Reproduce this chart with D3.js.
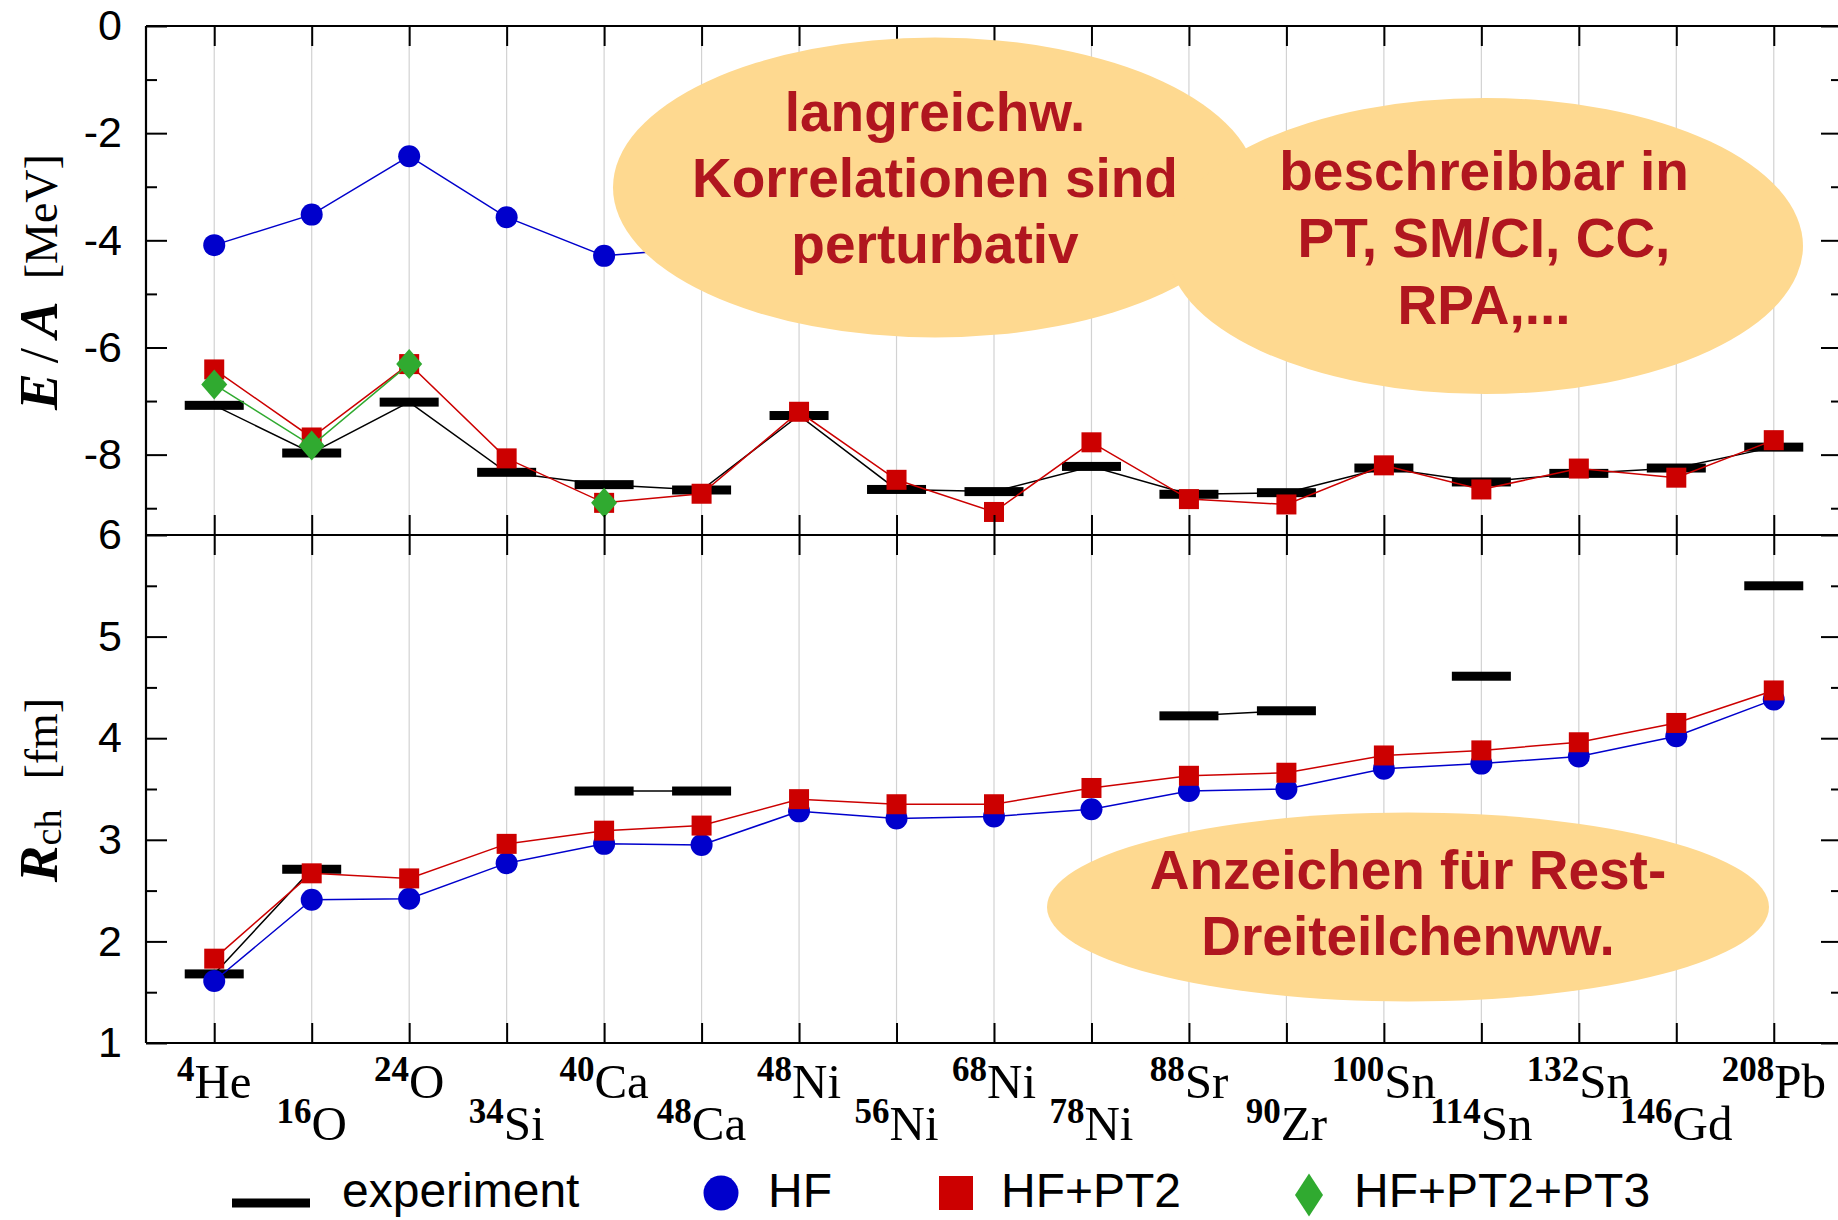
<!DOCTYPE html>
<html>
<head>
<meta charset="utf-8">
<script src="https://cdn.jsdelivr.net/npm/d3@7"></script>
<style>
  body { margin: 0; background: #fff; }
  svg { display: block; background: #fff; }
</style>
</head>
<body>
<svg id="chart" width="1838" height="1220"></svg>
<script>
// Nuclei along the x axis (mass number as superscript, element symbol)
const massNumbers = ["4","16","24","34","40","48","48","56","68","78","88","90","100","114","132","146","208"];
const elements    = ["He","O","O","Si","Ca","Ca","Ni","Ni","Ni","Ni","Sr","Zr","Sn","Sn","Sn","Gd","Pb"];

// Binding energy per nucleon E/A [MeV]
const energyExp = [-7.08,-7.97,-7.02,-8.33,-8.56,-8.66,-7.27,-8.65,-8.69,-8.22,-8.74,-8.71,-8.25,-8.51,-8.35,-8.25,-7.86];
const energyHF  = [-4.09,-3.52,-2.43,-3.57,-4.29,-4.14,-3.25,-3.90,-3.70,-3.55,-3.90,-4.00,-3.60,-3.70,-3.60,-3.70,-3.75];
const energyPT2 = [-6.41,-7.68,-6.31,-8.07,-8.90,-8.73,-7.20,-8.47,-9.07,-7.77,-8.83,-8.93,-8.20,-8.65,-8.26,-8.43,-7.73];
const energyPT3 = [-6.69,-7.83,-6.31,null,-8.90,null,null,null,null,null,null,null,null,null,null,null,null];

// Charge radius R_ch [fm]
const radiusExp = [1.68,2.71,null,null,3.48,3.48,null,null,null,null,4.22,4.27,null,4.61,null,null,5.50];
const radiusHF  = [1.61,2.41,2.42,2.77,2.96,2.95,3.28,3.21,3.23,3.30,3.48,3.50,3.70,3.75,3.82,4.02,4.38];
const radiusPT2 = [1.83,2.67,2.62,2.96,3.09,3.14,3.40,3.35,3.35,3.51,3.63,3.66,3.83,3.88,3.96,4.15,4.47];

// Tick values
const energyTicks      = [0,-2,-4,-6,-8];
const energyMinorTicks = [-1,-3,-5,-7,-9];
const radiusTicks      = [1,2,3,4,5,6];
const radiusMinorTicks = [1.5,2.5,3.5,4.5,5.5];

// Legend entries and callout texts
const legendLabels = ["experiment","HF","HF+PT2","HF+PT2+PT3"];
const calloutLines = [
  ["langreichw.","Korrelationen sind","perturbativ"],
  ["beschreibbar in","PT, SM/CI, CC,","RPA,..."],
  ["Anzeichen für Rest-","Dreiteilchenww."]
];

// ---------------------------------------------------------------
const svg = d3.select("#chart");
const plotLeft = 146, plotRight = 1842, plotTop = 26, plotMid = 535, plotBottom = 1043;

const x  = d3.scaleLinear().domain([-0.7, 16.7]).range([plotLeft, plotRight]);
const yE = d3.scaleLinear().domain([-9.5, 0]).range([plotMid, plotTop]);
const yR = d3.scaleLinear().domain([1, 6]).range([plotBottom, plotMid]);

const idx = d3.range(massNumbers.length);
const sans = "'Liberation Sans', Arial, Helvetica, sans-serif";
const serif = "'Liberation Serif', 'Times New Roman', serif";

const COL = { exp: "#000000", hf: "#0000cc", pt2: "#cc0000", pt3: "#30aa30" };

// vertical grid lines through both panels
svg.append("g").selectAll("line").data(idx).join("line")
  .attr("x1", i => x(i)).attr("x2", i => x(i))
  .attr("y1", plotTop).attr("y2", plotBottom)
  .attr("stroke", "#d2d2d2").attr("stroke-width", 1.2);

// marker shapes
const symbols = {
  bar: (g, w = 59, h = 9) => g.append("rect").attr("x", -w/2).attr("y", -h/2).attr("width", w).attr("height", h),
  circle: (g, r = 11) => g.append("circle").attr("r", r),
  square: (g, s = 20) => g.append("rect").attr("x", -s/2).attr("y", -s/2).attr("width", s).attr("height", s),
  diamond: (g, hw = 13, hh = 15) => g.append("path").attr("d", `M0,${-hh}L${hw},0L0,${hh}L${-hw},0Z`)
};

function drawSeries(values, y, color, shape) {
  const g = svg.append("g");
  const pts = values.map((v, i) => ({ i, v }));
  const line = d3.line().defined(d => d.v != null).x(d => x(d.i)).y(d => y(d.v));
  g.append("path").attr("d", line(pts))
    .attr("fill", "none").attr("stroke", color).attr("stroke-width", 1.5);
  g.selectAll("g.m").data(pts.filter(d => d.v != null)).join("g")
    .attr("class", "m")
    .attr("transform", d => `translate(${x(d.i)},${y(d.v)})`)
    .each(function () { symbols[shape](d3.select(this)).attr("fill", color); });
}

// upper panel: E/A
drawSeries(energyExp, yE, COL.exp, "bar");
drawSeries(energyHF,  yE, COL.hf,  "circle");
drawSeries(energyPT2, yE, COL.pt2, "square");
drawSeries(energyPT3, yE, COL.pt3, "diamond");
// lower panel: R_ch
drawSeries(radiusExp, yR, COL.exp, "bar");
drawSeries(radiusHF,  yR, COL.hf,  "circle");
drawSeries(radiusPT2, yR, COL.pt2, "square");

// axes (ticks point inward)
function styleAxis(g) {
  g.select(".domain").remove();
  g.selectAll(".tick line").attr("stroke", "#000").attr("stroke-width", 2);
  g.selectAll(".tick text").attr("font-family", sans).attr("font-size", 43).attr("fill", "#000");
}
const noLabel = () => "";

[[yE, energyTicks, energyMinorTicks], [yR, radiusTicks, radiusMinorTicks]].forEach(([y, major, minor]) => {
  svg.append("g").attr("transform", `translate(${plotLeft},0)`)
    .call(d3.axisLeft(y).tickValues(major).tickSize(-21).tickPadding(24).tickFormat(d => String(d)))
    .call(styleAxis);
  svg.append("g").attr("transform", `translate(${plotLeft},0)`)
    .call(d3.axisLeft(y).tickValues(minor).tickSize(-11).tickFormat(noLabel)).call(styleAxis);
  svg.append("g").attr("transform", `translate(${plotRight},0)`)
    .call(d3.axisRight(y).tickValues(major).tickSize(-21).tickFormat(noLabel)).call(styleAxis);
  svg.append("g").attr("transform", `translate(${plotRight},0)`)
    .call(d3.axisRight(y).tickValues(minor).tickSize(-11).tickFormat(noLabel)).call(styleAxis);
});

[[plotTop, "top"], [plotMid, "bottom"], [plotMid, "top"], [plotBottom, "bottom"]].forEach(([yy, side]) => {
  const ax = side === "top" ? d3.axisTop(x) : d3.axisBottom(x);
  svg.append("g").attr("transform", `translate(0,${yy})`)
    .call(ax.tickValues(idx).tickSize(-20).tickFormat(noLabel)).call(styleAxis);
});

// frame
const frame = svg.append("g").attr("stroke", "#000").attr("stroke-width", 2.2).attr("fill", "none");
[plotTop, plotMid, plotBottom].forEach(yy => frame.append("line")
  .attr("x1", plotLeft).attr("x2", plotRight).attr("y1", yy).attr("y2", yy));
[plotLeft, plotRight].forEach(xx => frame.append("line")
  .attr("x1", xx).attr("x2", xx).attr("y1", plotTop).attr("y2", plotBottom));

// callout ellipses
const callouts = [
  { cx: 935,  cy: 187.5, rx: 322, ry: 150,  tx: 935,  base: 131, step: 66 },
  { cx: 1485, cy: 246,   rx: 318, ry: 148,  tx: 1484, base: 190, step: 67 },
  { cx: 1408, cy: 907,   rx: 361, ry: 94.5, tx: 1408, base: 889, step: 66 }
];
const calloutG = svg.append("g");
callouts.forEach(c => calloutG.append("ellipse")
  .attr("cx", c.cx).attr("cy", c.cy).attr("rx", c.rx).attr("ry", c.ry).attr("fill", "#fed990"));
callouts.forEach((c, k) => {
  calloutG.append("g").selectAll("text").data(calloutLines[k]).join("text")
    .attr("x", c.tx).attr("y", (d, j) => c.base + j * c.step)
    .attr("text-anchor", "middle")
    .attr("font-family", sans).attr("font-weight", "bold").attr("font-size", 55)
    .attr("fill", "#b0161f").text(d => d);
});

// x labels: two staggered rows
const xl = svg.append("g").attr("font-family", serif).attr("fill", "#000");
idx.forEach(i => {
  const t = xl.append("text")
    .attr("x", x(i)).attr("y", i % 2 === 0 ? 1098 : 1140)
    .attr("text-anchor", "middle");
  t.append("tspan").attr("font-size", 35).attr("font-weight", "bold").attr("dy", -17).text(massNumbers[i]);
  t.append("tspan").attr("font-size", 49).attr("dy", 17).text(elements[i]);
});

// y-axis titles
const t1 = svg.append("text").attr("transform", "translate(57,282) rotate(-90)")
  .attr("text-anchor", "middle").attr("font-family", serif).attr("fill", "#000");
t1.append("tspan").attr("font-size", 55).attr("font-weight", "bold").attr("font-style", "italic").text("E");
t1.append("tspan").attr("font-size", 55).attr("dx", 10).text("/");
t1.append("tspan").attr("font-size", 55).attr("dx", 10).attr("font-weight", "bold").attr("font-style", "italic").text("A");
t1.append("tspan").attr("font-size", 46).attr("dx", 22).text("[MeV]");

const t2 = svg.append("text").attr("transform", "translate(57,790) rotate(-90)")
  .attr("text-anchor", "middle").attr("font-family", serif).attr("fill", "#000");
t2.append("tspan").attr("font-size", 55).attr("font-weight", "bold").attr("font-style", "italic").text("R");
t2.append("tspan").attr("font-size", 38).attr("dy", 4).text("ch");
t2.append("tspan").attr("font-size", 46).attr("dx", 30).attr("dy", -4).text("[fm]");

// legend
const lg = svg.append("g").attr("font-family", sans).attr("font-size", 48).attr("fill", "#000");
const legendItems = [
  { sym: "bar",     args: [78, 9],    cx: 271,  cy: 1203, color: COL.exp, tx: 342 },
  { sym: "circle",  args: [17.5],     cx: 721,  cy: 1193, color: COL.hf,  tx: 768 },
  { sym: "square",  args: [34],       cx: 956,  cy: 1193, color: COL.pt2, tx: 1001 },
  { sym: "diamond", args: [14, 21.5], cx: 1309, cy: 1195, color: COL.pt3, tx: 1354 }
];
legendItems.forEach((d, k) => {
  const g = lg.append("g").attr("transform", `translate(${d.cx},${d.cy})`);
  symbols[d.sym](g, ...d.args).attr("fill", d.color);
  lg.append("text").attr("x", d.tx).attr("y", 1207).text(legendLabels[k]);
});
</script>
</body>
</html>
